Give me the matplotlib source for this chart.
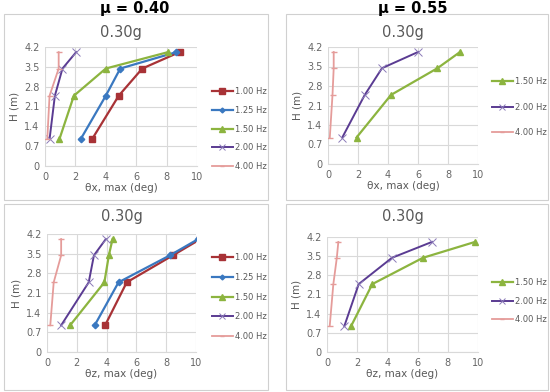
import matplotlib
matplotlib.use("Agg")
import matplotlib.pyplot as plt
from matplotlib.patches import Rectangle

# ---- data ----
heights = [0.95, 2.48, 3.44, 4.02]
freqs_all = ["1.00 Hz", "1.25 Hz", "1.50 Hz", "2.00 Hz", "4.00 Hz"]
freqs_055 = ["1.50 Hz", "2.00 Hz", "4.00 Hz"]

thx_040 = {
    "1.00 Hz": [3.1, 4.85, 6.4, 8.85],
    "1.25 Hz": [2.35, 4.0, 4.95, 8.65],
    "1.50 Hz": [0.95, 1.9, 4.0, 8.1],
    "2.00 Hz": [0.3, 0.65, 1.15, 2.05],
    "4.00 Hz": [0.15, 0.3, 0.9, 0.9],
}
thx_055 = {
    "1.50 Hz": [1.9, 4.2, 7.3, 8.8],
    "2.00 Hz": [0.95, 2.45, 3.6, 6.0],
    "4.00 Hz": [0.12, 0.3, 0.38, 0.38],
}
thz_040 = {
    "1.00 Hz": [3.9, 5.35, 8.45, 10.3],
    "1.25 Hz": [3.2, 4.8, 8.25, 10.15],
    "1.50 Hz": [1.55, 3.85, 4.15, 4.4],
    "2.00 Hz": [0.95, 2.8, 3.15, 3.95],
    "4.00 Hz": [0.22, 0.45, 0.95, 0.95],
}
thz_055 = {
    "1.50 Hz": [1.6, 3.0, 6.35, 9.8],
    "2.00 Hz": [1.15, 2.1, 4.3, 6.95],
    "4.00 Hz": [0.18, 0.42, 0.65, 0.75],
}

styles = {
    "1.00 Hz": dict(color="#A83236", marker="s", ms=5, lw=1.6),
    "1.25 Hz": dict(color="#3A78C0", marker="D", ms=3.3, lw=1.6),
    "1.50 Hz": dict(color="#8CB43F", marker="^", ms=5, lw=1.6),
    "2.00 Hz": dict(color="#5A3B92", marker="x", ms=5.5, lw=1.4, mew=0.7,
                    mec="#8B7BB8"),
    "4.00 Hz": dict(color="#E59C9A", marker="_", ms=4, lw=1.3, mew=1.0),
}

W, H = 550, 392
fig = plt.figure(figsize=(5.5, 3.92), dpi=100)


def fr(x0, x1, ytop, ybot):
    return [x0 / W, 1 - ybot / H, (x1 - x0) / W, (ybot - ytop) / H]


# panel borders
for (bx0, bx1, by0, by1) in [(4, 268, 14, 200), (286, 548, 14, 200),
                             (4, 268, 204, 390), (286, 548, 204, 390)]:
    fig.patches.append(Rectangle((bx0 / W, 1 - by1 / H), (bx1 - bx0) / W,
                                 (by1 - by0) / H, transform=fig.transFigure,
                                 fill=False, edgecolor="#D0D0D0", lw=0.8))

panels = [
    (thx_040, freqs_all, fr(45, 197, 47, 166), "θx, max (deg)",
     (204, 129, 15.5), 32),
    (thx_055, freqs_055, fr(328, 478, 47, 164), "θx, max (deg)",
     (484, 107, 20.5), 32),
    (thz_040, freqs_all, fr(47, 196, 234, 352), "θz, max (deg)",
     (204, 297, 16.2), 217),
    (thz_055, freqs_055, fr(327, 478, 237, 352), "θz, max (deg)",
     (484, 301, 15.5), 217),
]

for data, freqs, rect, xlabel, (lx, ly, lsp), ty in panels:
    ax = fig.add_axes(rect)
    handles = []
    for f in freqs:
        st = dict(styles[f])
        h, = ax.plot(data[f], heights, label=f, **st)
        handles.append(h)
    ax.set_xlim(0, 10)
    ax.set_ylim(0, 4.2)
    ax.set_xticks([0, 2, 4, 6, 8, 10])
    ax.set_yticks([0, 0.7, 1.4, 2.1, 2.8, 3.5, 4.2])
    ax.set_yticklabels(["0", "0.7", "1.4", "2.1", "2.8", "3.5", "4.2"])
    ax.grid(True, color="#D9D9D9", lw=0.8)
    ax.set_axisbelow(True)
    for s in ax.spines.values():
        s.set_visible(False)
    ax.spines["bottom"].set_visible(True)
    ax.spines["bottom"].set_color("#D9D9D9")
    ax.tick_params(length=0, labelsize=7, colors="#666666", pad=4)
    ax.set_xlabel(xlabel, fontsize=7.5, color="#595959", labelpad=1)
    ax.set_ylabel("H (m)", fontsize=7.5, color="#595959", labelpad=3)
    for t in ax.get_xticklabels() + ax.get_yticklabels():
        t.set_clip_on(False)
    cx = (rect[0] + rect[2] / 2)
    fig.text(cx, 1 - ty / H, "0.30g", fontsize=10.5, color="#595959",
             ha="center", va="center")
    leg = fig.legend(handles=handles, loc="center left",
                     bbox_to_anchor=(lx / W, 1 - ly / H),
                     bbox_transform=fig.transFigure, frameon=False,
                     fontsize=6, handlelength=2.6, handletextpad=0.2,
                     labelspacing=(lsp - 8.5) / 6, labelcolor="#595959",
                     markerscale=0.75)

fig.text(135 / W, 1 - 9 / H, "μ = 0.40", fontsize=10.5, fontweight="bold",
         ha="center", va="center")
fig.text(413 / W, 1 - 9 / H, "μ = 0.55", fontsize=10.5, fontweight="bold",
         ha="center", va="center")

fig.savefig("out.png", dpi=100)
